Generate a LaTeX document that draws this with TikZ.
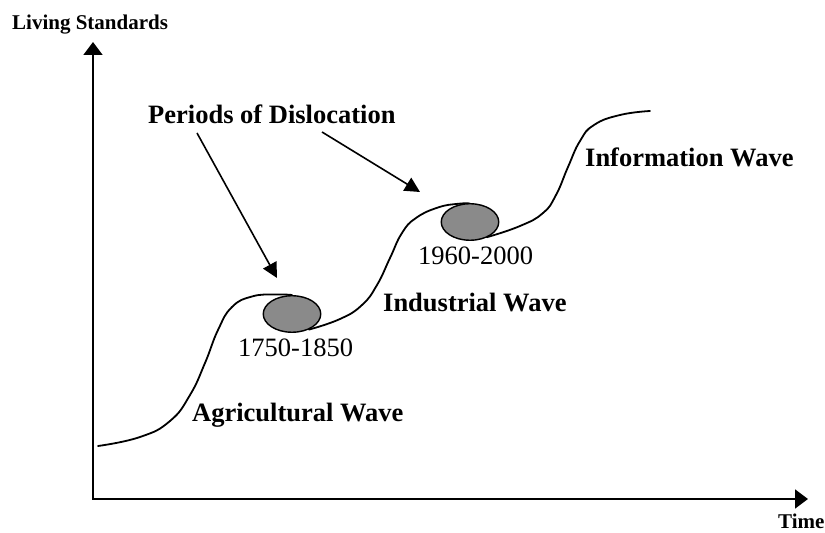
\documentclass[tikz,border=0pt]{standalone}
\usepackage{fontspec}
\setmainfont{Liberation Serif}
\usetikzlibrary{arrows.meta,shapes.geometric}
\definecolor{blobgray}{RGB}{138,138,138}
\begin{document}
\begin{tikzpicture}[x=1pt,y=1pt,
  axis/.style={line width=2pt, line join=miter,
    {Triangle[length=13pt,width=19pt]}-{Triangle[length=13pt,width=19pt]}},
  wave/.style={line width=1.8pt, line cap=round},
  pointer/.style={line width=1.6pt, -{Triangle[length=15pt,width=15pt]}},
  dislocation/.style={ellipse, draw, line width=1.4pt, fill=blobgray,
    minimum width=57.5pt, minimum height=36.5pt, inner sep=0pt},
  biglabel/.style={font=\fontsize{26.5}{30}\selectfont\bfseries, anchor=base west, inner sep=0pt},
  axislabel/.style={font=\fontsize{21}{24}\selectfont\bfseries, anchor=base west, inner sep=0pt},
  yearlabel/.style={font=\fontsize{26.5}{30}\selectfont, anchor=base west, inner sep=0pt}]
\useasboundingbox (0,0) rectangle (825,533);

% axes
\coordinate (O) at (93,34);
\coordinate (ytip) at (93,491);
\coordinate (xtip) at (808,34);
\draw[axis] (ytip) -- (O) -- (xtip);
\node[axislabel] (ls) at (12,503.5) {Living Standards};
\node[axislabel] (time) at (778,4) {Time};

% the three waves
\draw[wave] plot[smooth, tension=0.8] coordinates {(98,87) (140,96) (170,112) (190,138) (205,170) (218,203) (232,226) (252,236.5) (275,238.5) (292,238)};
\draw[wave] plot[smooth, tension=0.8] coordinates {(308.9,203.4) (340,214) (362,228) (377,248) (390,275) (402,300) (416,315) (438,325.5) (458,329.2) (470,329.5)};
\draw[wave] plot[smooth, tension=0.8] coordinates {(486.9,295.8) (520,307) (543,320) (556,338) (568,366) (580,392) (594,408) (620,418) (650,422)};

% periods of dislocation
\node[dislocation] (e1) at (292,219) {};
\node[dislocation] (e2) at (470,311) {};
\node[yearlabel] (y1) at (238,176) {1750-1850};
\node[yearlabel] (y2) at (418,268) {1960-2000};

% wave labels
\node[biglabel] (agr) at (192,111) {Agricultural Wave};
\node[biglabel] (ind) at (383,221) {Industrial Wave};
\node[biglabel] (inf) at (585,366) {Information Wave};

% pointers
\node[biglabel] (pod) at (148,409) {Periods of Dislocation};
\coordinate (a1s) at (197,400);
\coordinate (a1e) at (277,255);
\coordinate (a2s) at (322,401);
\coordinate (a2e) at (420,341);
\draw[pointer] (a1s) -- (a1e);
\draw[pointer] (a2s) -- (a2e);
\end{tikzpicture}
\end{document}
